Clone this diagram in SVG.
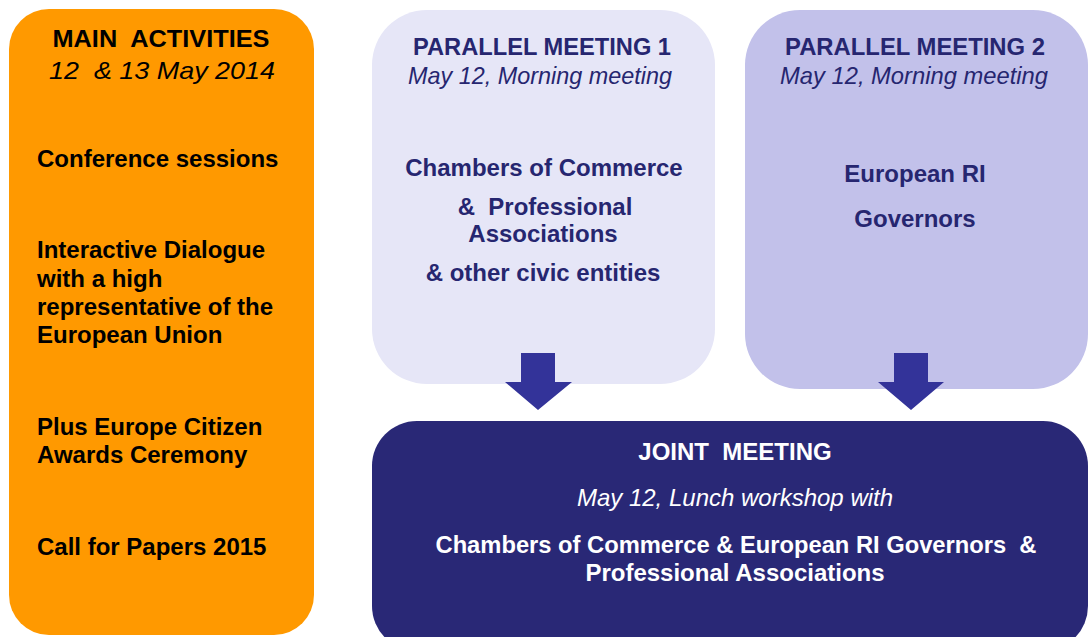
<svg xmlns="http://www.w3.org/2000/svg" width="1089" height="637" viewBox="0 0 1089 637">
<style>
text{font-family:"Liberation Sans",Arial,sans-serif;font-size:24px;white-space:pre}
.b{font-weight:bold}
.i{font-style:italic}
.blk{fill:#000}
.nv{fill:#262670}
.wh{fill:#fff}
.c{text-anchor:middle}
.arrow{fill:#333399}
</style>
<rect width="1089" height="637" fill="#fff"/>
<g id="main-activities">
<rect x="9" y="9" width="305" height="626" rx="40" ry="40" fill="#FF9900"/>
<text class="b blk c" x="161" y="47" textLength="217" lengthAdjust="spacingAndGlyphs" xml:space="preserve">MAIN  ACTIVITIES</text>
<text class="i blk c" x="162" y="79" textLength="226" lengthAdjust="spacingAndGlyphs" xml:space="preserve">12  &amp; 13 May 2014</text>
<text class="b blk" x="37" y="167">Conference sessions</text>
<text class="b blk" x="37" y="258">Interactive Dialogue</text>
<text class="b blk" x="37" y="287">with a high</text>
<text class="b blk" x="37" y="315">representative of the</text>
<text class="b blk" x="37" y="343">European Union</text>
<text class="b blk" x="37" y="435">Plus Europe Citizen</text>
<text class="b blk" x="37" y="463">Awards Ceremony</text>
<text class="b blk" x="37" y="555">Call for Papers 2015</text>
</g>
<g id="parallel-meeting-1">
<rect x="372" y="10" width="343" height="374" rx="55" ry="55" fill="#E6E6F7"/>
<text class="b nv c" x="542" y="55" textLength="258" lengthAdjust="spacingAndGlyphs">PARALLEL MEETING 1</text>
<text class="i nv c" x="540" y="84" textLength="264" lengthAdjust="spacingAndGlyphs">May 12, Morning meeting</text>
<text class="b nv c" x="544" y="176">Chambers of Commerce</text>
<text class="b nv c" x="545" y="215" xml:space="preserve">&amp;  Professional</text>
<text class="b nv c" x="543" y="242">Associations</text>
<text class="b nv c" x="543" y="281">&amp; other civic entities</text>
</g>
<g id="parallel-meeting-2">
<rect x="745" y="10" width="343" height="379" rx="55" ry="55" fill="#C2C1EA"/>
<text class="b nv c" x="915" y="55" textLength="260" lengthAdjust="spacingAndGlyphs">PARALLEL MEETING 2</text>
<text class="i nv c" x="914" y="84" textLength="268" lengthAdjust="spacingAndGlyphs">May 12, Morning meeting</text>
<text class="b nv c" x="915" y="182">European RI</text>
<text class="b nv c" x="915" y="227">Governors</text>
</g>
<g id="joint-meeting">
<rect x="372" y="421" width="716" height="230" rx="45" ry="45" fill="#292876"/>
<text class="b wh c" x="735" y="460" xml:space="preserve">JOINT  MEETING</text>
<text class="i wh c" x="735" y="506">May 12, Lunch workshop with</text>
<text class="b wh c" x="736" y="553" textLength="601" lengthAdjust="spacingAndGlyphs" xml:space="preserve">Chambers of Commerce &amp; European RI Governors  &amp;</text>
<text class="b wh c" x="735" y="581">Professional Associations</text>
</g>
<g id="connectors">
<polygon class="arrow" points="521,353 555,353 555,382 572,382 538,410 505,382 521,382"/>
<polygon class="arrow" points="894,353 928,353 928,382 944,382 911,410 878,382 894,382"/>
</g>
</svg>
